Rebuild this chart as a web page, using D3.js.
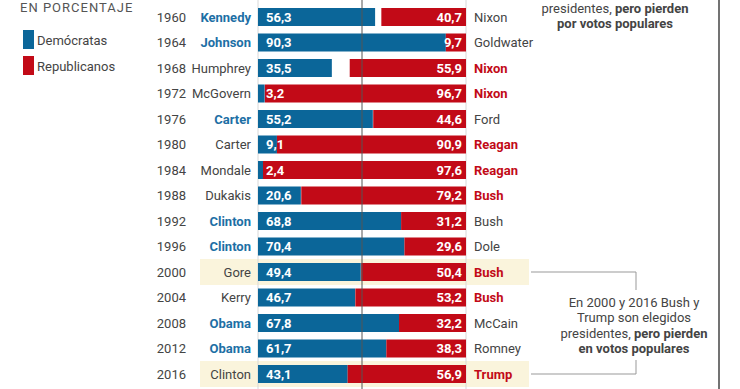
<!DOCTYPE html>
<html>
<head>
<meta charset="utf-8">
<script src="https://cdn.jsdelivr.net/npm/d3@7"></script>
<style>
  body { margin: 0; background: #fff; }
  svg { display: block; font-family: Roboto, "Open Sans", sans-serif; }
</style>
</head>
<body>
<svg id="grafico" width="740" height="389"></svg>
<script>
// dati
var anni = ["1960","1964","1968","1972","1976","1980","1984","1988","1992","1996","2000","2004","2008","2012","2016"];
var democratici = ["Kennedy","Johnson","Humphrey","McGovern","Carter","Carter","Mondale","Dukakis","Clinton","Clinton","Gore","Kerry","Obama","Obama","Clinton"];
var repubblicani = ["Nixon","Goldwater","Nixon","Nixon","Ford","Reagan","Reagan","Bush","Bush","Dole","Bush","Bush","McCain","Romney","Trump"];
var votiDem = [56.3, 90.3, 35.5, 3.2, 55.2, 9.1, 2.4, 20.6, 68.8, 70.4, 49.4, 46.7, 67.8, 61.7, 43.1];
var votiRep = [40.7, 9.7, 55.9, 96.7, 44.6, 90.9, 97.6, 79.2, 31.2, 29.6, 50.4, 53.2, 32.2, 38.3, 56.9];
var vincitore = ["D","D","R","R","D","R","R","R","D","D","R","R","D","D","R"];
var evidenziati = ["2000","2016"];

var BLU = "#0b6699", ROSSO = "#c20a17", BLU_TESTO = "#1d6fa5", GRIGIO = "#444";

var svg = d3.select("#grafico");

var x = d3.scaleLinear().domain([0, 100]).range([258, 466]);
var y = d3.scaleBand().domain(anni).range([4.25, 386.75]).paddingInner(0.294).paddingOuter(0.147);
var centro = function(a){ return y(a) + y.bandwidth() / 2; };
var fmt = function(v){ return v.toFixed(1).replace(".", ","); };

var righe = anni.map(function(a, i){
    return { anno: a, dem: democratici[i], rep: repubblicani[i], vd: votiDem[i], vr: votiRep[i], vince: vincitore[i] };
});

// sfondo righe evidenziate
svg.selectAll("rect.evid")
    .data(evidenziati)
    .enter().append("rect")
    .attr("class", "evid")
    .attr("x", 200).attr("width", 329)
    .attr("y", function(a){ return centro(a) - 13; })
    .attr("height", 26)
    .attr("fill", "#faf4dc");

// linee verticali guida
svg.selectAll("line.guida")
    .data([0, 100])
    .enter().append("line")
    .attr("x1", function(d){ return x(d); }).attr("x2", function(d){ return x(d); })
    .attr("y1", 0).attr("y2", 389)
    .attr("stroke", "#d8d8d8").attr("stroke-width", 1);

// barre
var g = svg.selectAll("g.riga")
    .data(righe)
    .enter().append("g")
    .attr("class", "riga");

g.append("rect")
    .attr("x", x(0))
    .attr("y", function(d){ return y(d.anno); })
    .attr("width", function(d){ return x(d.vd) - x(0); })
    .attr("height", y.bandwidth())
    .attr("fill", BLU);

g.append("rect")
    .attr("x", function(d){ return x(100 - d.vr); })
    .attr("y", function(d){ return y(d.anno); })
    .attr("width", function(d){ return x(100) - x(100 - d.vr); })
    .attr("height", y.bandwidth())
    .attr("fill", ROSSO);

// linea centrale 50%
svg.append("line")
    .attr("x1", x(50)).attr("x2", x(50))
    .attr("y1", 0).attr("y2", 389)
    .attr("stroke", "#555").attr("stroke-width", 1);

// valori
g.append("text")
    .attr("x", x(0) + 8)
    .attr("y", function(d){ return centro(d.anno); })
    .attr("dy", "0.35em")
    .attr("fill", "#fff").style("font-size", "13px").style("font-weight", "bold")
    .text(function(d){ return fmt(d.vd); });

g.append("text")
    .attr("x", x(100) - 4)
    .attr("y", function(d){ return centro(d.anno); })
    .attr("dy", "0.35em")
    .attr("text-anchor", "end")
    .attr("fill", "#fff").style("font-size", "13px").style("font-weight", "bold")
    .text(function(d){ return fmt(d.vr); });

// anni
g.append("text")
    .attr("x", 186)
    .attr("y", function(d){ return centro(d.anno); })
    .attr("dy", "0.35em")
    .attr("text-anchor", "end")
    .attr("fill", GRIGIO).style("font-size", "13px")
    .text(function(d){ return d.anno; });

// candidati
g.append("text")
    .attr("x", 251)
    .attr("y", function(d){ return centro(d.anno); })
    .attr("dy", "0.35em")
    .attr("text-anchor", "end")
    .attr("fill", function(d){ return d.vince == "D" ? BLU_TESTO : GRIGIO; })
    .style("font-size", "13px")
    .style("font-weight", function(d){ return d.vince == "D" ? "bold" : "normal"; })
    .text(function(d){ return d.dem; });

g.append("text")
    .attr("x", 474)
    .attr("y", function(d){ return centro(d.anno); })
    .attr("dy", "0.35em")
    .attr("fill", function(d){ return d.vince == "R" ? ROSSO : GRIGIO; })
    .style("font-size", "13px")
    .style("font-weight", function(d){ return d.vince == "R" ? "bold" : "normal"; })
    .text(function(d){ return d.rep; });

// legenda
svg.append("text")
    .attr("x", 20).attr("y", 7).attr("dy", "0.35em")
    .attr("fill", "#555").style("font-size", "13px").style("letter-spacing", "1px")
    .text("EN PORCENTAJE");

var legenda = [{ t: "Demócratas", c: BLU, y: 40 }, { t: "Republicanos", c: ROSSO, y: 66 }];
var lg = svg.selectAll("g.leg").data(legenda).enter().append("g").attr("class", "leg");
lg.append("rect")
    .attr("x", 23).attr("y", function(d){ return d.y - 10; })
    .attr("width", 11).attr("height", 19)
    .attr("fill", function(d){ return d.c; });
lg.append("text")
    .attr("x", 37).attr("y", function(d){ return d.y; }).attr("dy", "0.35em")
    .attr("fill", GRIGIO).style("font-size", "13px")
    .text(function(d){ return d.t; });

// annotazioni
function nota(cx, y0, righeTesto){
    var t = svg.append("text")
        .attr("text-anchor", "middle")
        .attr("fill", GRIGIO).style("font-size", "13px");
    righeTesto.forEach(function(r, i){
        var ln = t.append("tspan").attr("x", cx).attr("y", y0 + i * 15.5).attr("dy", "0.35em");
        r.forEach(function(p){
            ln.append("tspan").style("font-weight", p[1] ? "bold" : "normal").text(p[0]);
        });
    });
}

nota(615, 8, [
    [["presidentes, ", false], ["pero pierden", true]],
    [["por votos populares", true]]
]);

nota(634, 302, [
    [["En 2000 y 2016 Bush y", false]],
    [["Trump son elegidos", false]],
    [["presidentes, ", false], ["pero pierden", true]],
    [["en votos populares", true]]
]);

// parentesi
var linea = d3.line();
svg.append("path")
    .attr("d", linea([[531, centro("2000")], [636, centro("2000")], [636, 290]]))
    .attr("fill", "none").attr("stroke", "#999");
svg.append("path")
    .attr("d", linea([[531, centro("2016")], [636, centro("2016")], [636, 360]]))
    .attr("fill", "none").attr("stroke", "#999");

// bordo destro
svg.append("line")
    .attr("x1", 719).attr("x2", 719).attr("y1", 0).attr("y2", 389)
    .attr("stroke", "#444").attr("stroke-width", 1.5);
</script>
</body>
</html>
